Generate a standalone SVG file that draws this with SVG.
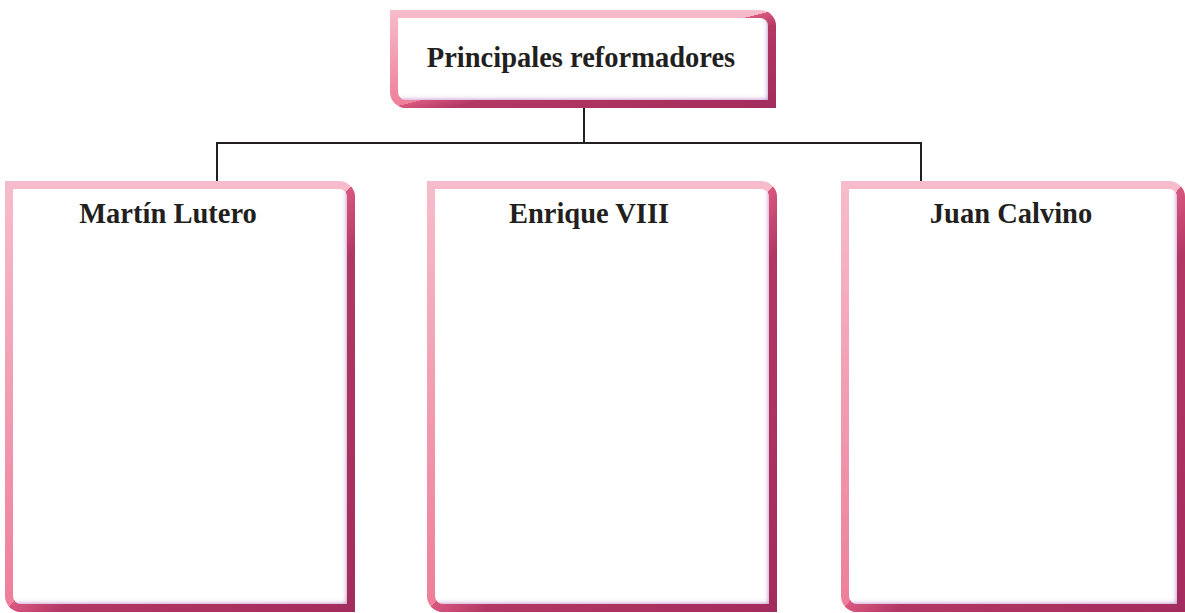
<svg xmlns="http://www.w3.org/2000/svg" width="1185" height="613" viewBox="0 0 1185 613">
  <style>
    .pink { fill: url(#gPink); }
    .dark { fill: url(#gDark); }
    .inner { fill: #ffffff; }
    .shadow { fill: none; stroke: #b07cbd; stroke-width: 8; filter: url(#fBlur); }
    .lbl { font-family: "Liberation Serif", "Times New Roman", serif; font-weight: bold; font-size: 28.5px; fill: #231f20; text-anchor: middle; }
    .conn { fill: none; stroke: #231f20; stroke-width: 2; }
  </style>
  <defs>
    <linearGradient id="gPink" x1="0" y1="0" x2="0" y2="1">
      <stop offset="0" stop-color="#f7bccb"/>
      <stop offset="1" stop-color="#ee7d98"/>
    </linearGradient>
    <linearGradient id="gDark" x1="0" y1="0" x2="1" y2="1">
      <stop offset="0.5" stop-color="#a52d5f" stop-opacity="0"/>
      <stop offset="0.5" stop-color="#d9577f" stop-opacity="1"/>
      <stop offset="0.58" stop-color="#b23864" stop-opacity="1"/>
      <stop offset="1" stop-color="#a32c5e" stop-opacity="1"/>
    </linearGradient>
    <filter id="fBlur" x="-10%" y="-10%" width="120%" height="120%">
      <feGaussianBlur stdDeviation="2.5"/>
    </filter>
    <clipPath id="cTop"><path d="M398 18 H760 A8 8 0 0 1 768 26 V100 H406 A8 8 0 0 1 398 92 Z"/></clipPath>
    <clipPath id="cL"><path d="M13 189 H339 A8 8 0 0 1 347 197 V604 H21 A8 8 0 0 1 13 596 Z"/></clipPath>
    <clipPath id="cM"><path d="M435 189 H761 A8 8 0 0 1 769 197 V604 H443 A8 8 0 0 1 435 596 Z"/></clipPath>
    <clipPath id="cR"><path d="M849 189 H1169 A8 8 0 0 1 1177 197 V604 H857 A8 8 0 0 1 849 596 Z"/></clipPath>
  </defs>

  <g id="connectors">
    <path class="conn" d="M584 108 V143 M216 143 H922 M217 142 V181 M921 142 V181"/>
  </g>

  <g id="node-principales">
    <path class="pink" d="M390 10 H760 A16 16 0 0 1 776 26 V108 H406 A16 16 0 0 1 390 92 Z"/>
    <path class="dark" d="M390 10 H760 A16 16 0 0 1 776 26 V108 H406 A16 16 0 0 1 390 92 Z"/>
    <path class="inner" d="M398 18 H760 A8 8 0 0 1 768 26 V100 H406 A8 8 0 0 1 398 92 Z"/>
    <g clip-path="url(#cTop)">
      <path class="shadow" d="M380 104 H772 V10"/>
    </g>
    <text class="lbl" x="581" y="67">Principales reformadores</text>
  </g>

  <g id="node-lutero">
    <path class="pink" d="M5 181 H339 A16 16 0 0 1 355 197 V612 H21 A16 16 0 0 1 5 596 Z"/>
    <path class="dark" d="M5 181 H339 A16 16 0 0 1 355 197 V612 H21 A16 16 0 0 1 5 596 Z"/>
    <path class="inner" d="M13 189 H339 A8 8 0 0 1 347 197 V604 H21 A8 8 0 0 1 13 596 Z"/>
    <g clip-path="url(#cL)">
      <path class="shadow" d="M0 608 H351 V180"/>
    </g>
    <text class="lbl" x="168" y="223">Martín Lutero</text>
  </g>

  <g id="node-enrique">
    <path class="pink" d="M427 181 H761 A16 16 0 0 1 777 197 V612 H443 A16 16 0 0 1 427 596 Z"/>
    <path class="dark" d="M427 181 H761 A16 16 0 0 1 777 197 V612 H443 A16 16 0 0 1 427 596 Z"/>
    <path class="inner" d="M435 189 H761 A8 8 0 0 1 769 197 V604 H443 A8 8 0 0 1 435 596 Z"/>
    <g clip-path="url(#cM)">
      <path class="shadow" d="M420 608 H773 V180"/>
    </g>
    <text class="lbl" x="589" y="223">Enrique VIII</text>
  </g>

  <g id="node-calvino">
    <path class="pink" d="M841 181 H1169 A16 16 0 0 1 1185 197 V612 H857 A16 16 0 0 1 841 596 Z"/>
    <path class="dark" d="M841 181 H1169 A16 16 0 0 1 1185 197 V612 H857 A16 16 0 0 1 841 596 Z"/>
    <path class="inner" d="M849 189 H1169 A8 8 0 0 1 1177 197 V604 H857 A8 8 0 0 1 849 596 Z"/>
    <g clip-path="url(#cR)">
      <path class="shadow" d="M835 608 H1181 V180"/>
    </g>
    <text class="lbl" x="1011" y="223">Juan Calvino</text>
  </g>
</svg>
